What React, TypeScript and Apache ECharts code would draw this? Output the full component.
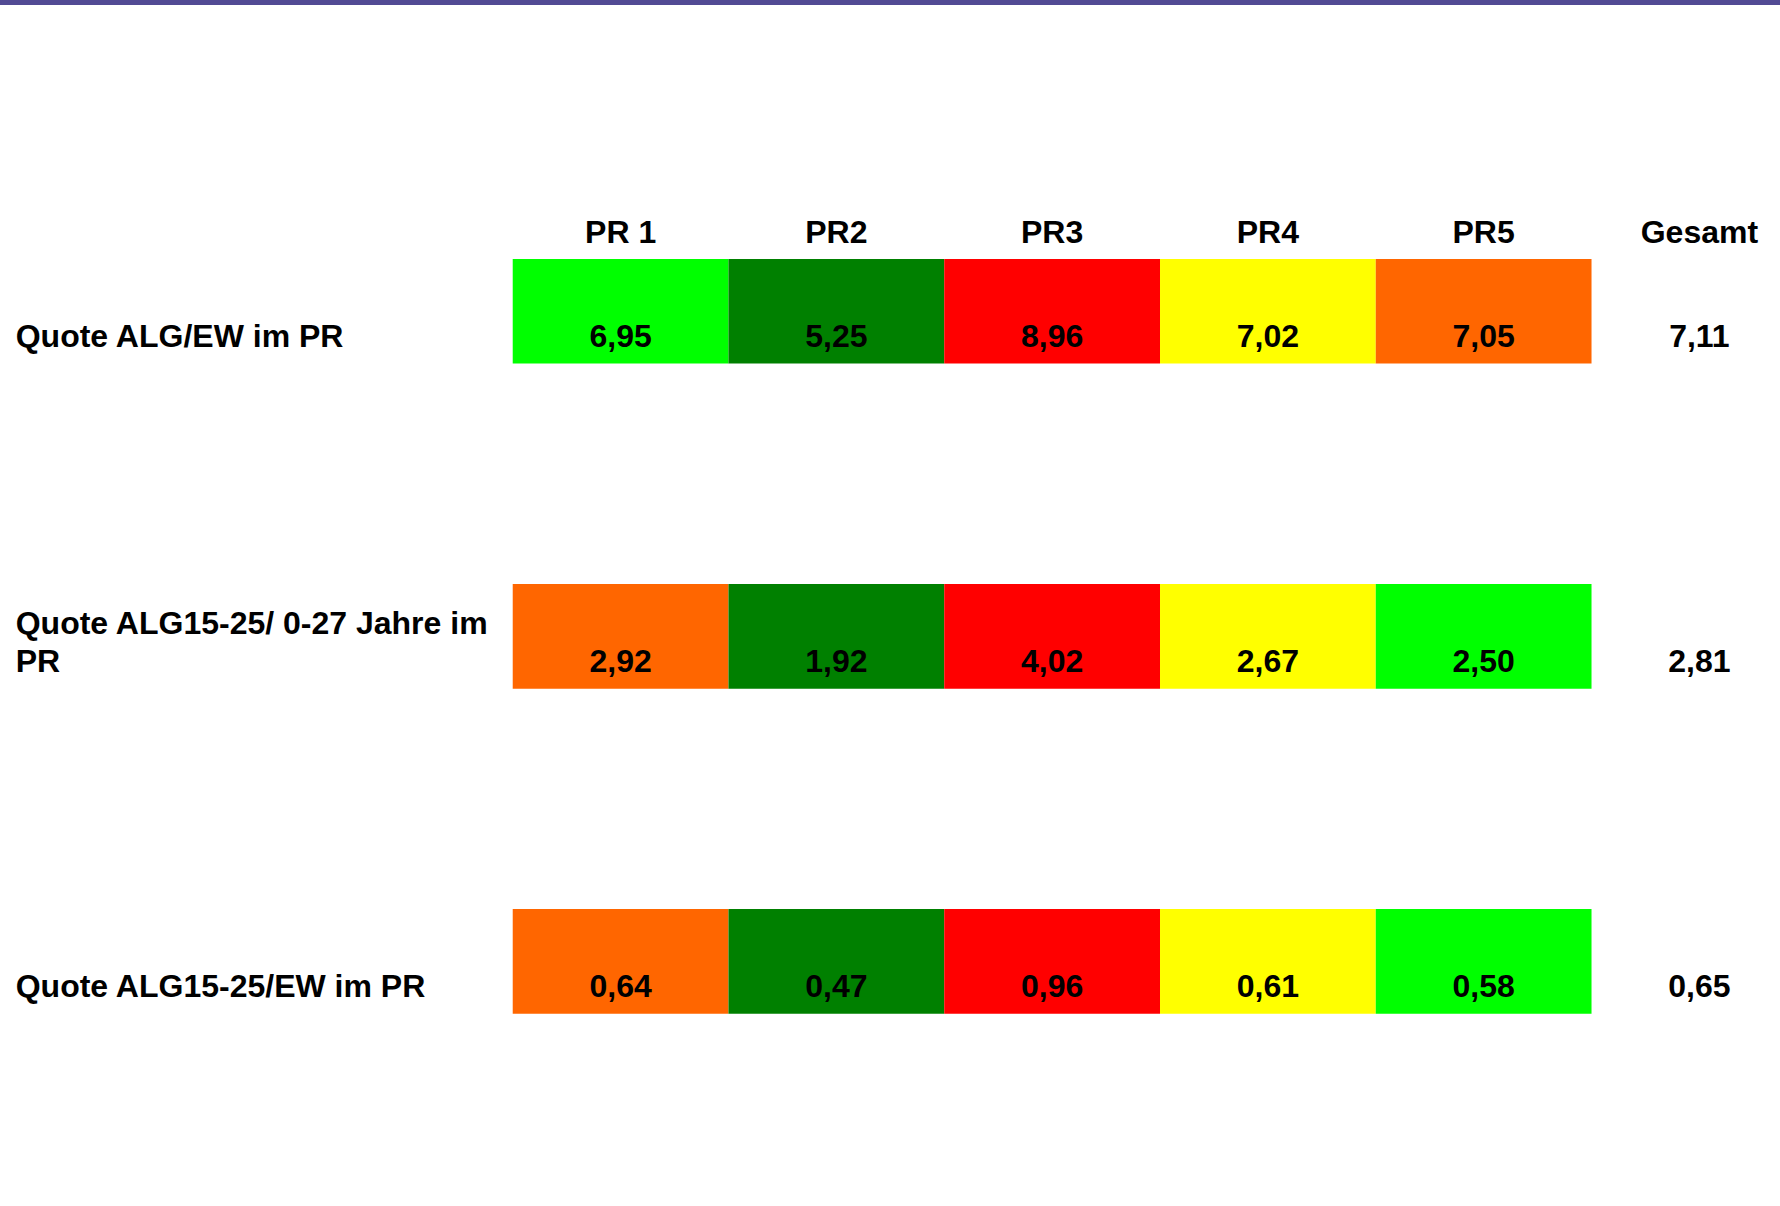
import React, { useEffect, useRef } from 'react';
import * as echarts from 'echarts';

const columns = ['PR 1', 'PR2', 'PR3', 'PR4', 'PR5', 'Gesamt'];
const rows = ['Quote ALG/EW im PR', 'Quote ALG15-25/ 0-27 Jahre im PR', 'Quote ALG15-25/EW im PR'];
const row1Values = [6.95, 5.25, 8.96, 7.02, 7.05];
const row2Values = [2.92, 1.92, 4.02, 2.67, 2.5];
const row3Values = [0.64, 0.47, 0.96, 0.61, 0.58];
const totals = [7.11, 2.81, 0.65];
const row1Colors = ['lime', 'green', 'red', 'yellow', 'orange'];
const row2Colors = ['orange', 'green', 'red', 'yellow', 'lime'];
const row3Colors = ['orange', 'green', 'red', 'yellow', 'lime'];

const palette: Record<string, string> = {
  lime: '#00ff00',
  green: '#008000',
  red: '#ff0000',
  yellow: '#ffff00',
  orange: '#ff6600',
};

const FONT = 'bold 32px "Liberation Sans", Arial, sans-serif';
const fmt = (v: number) => v.toFixed(2).replace('.', ',');

export default function App() {
  const ref = useRef<HTMLDivElement>(null);
  useEffect(() => {
    if (!ref.current) return;
    const chart = echarts.init(ref.current, undefined, { renderer: 'svg' });

    const allValues = [row1Values, row2Values, row3Values];
    const allColors = [row1Colors, row2Colors, row3Colors];
    const cellData: any[] = [];
    const cellColors: (string | null)[] = [];
    allValues.forEach((vals, r) => {
      vals.forEach((v, c) => {
        cellData.push([c, r, v]);
        cellColors.push(palette[allColors[r][c]]);
      });
      cellData.push([5, r, totals[r]]);
      cellColors.push(null);
    });

    chart.setOption({
      animation: false,
      backgroundColor: '#ffffff',
      graphic: [
        { type: 'rect', left: 0, top: 0, shape: { width: 1780, height: 5 }, style: { fill: '#524a94' } },
      ],
      grid: { left: 620.6, top: 148.7, width: 1078.8, height: 975.3 },
      xAxis: {
        type: 'category',
        data: columns,
        boundaryGap: false,
        position: 'top',
        offset: -83,
        axisLine: { show: false },
        axisTick: { show: false },
        splitLine: { show: false },
        axisLabel: {
          margin: 0,
          verticalAlign: 'middle',
          color: '#000',
          fontSize: 32,
          fontWeight: 'bold',
          fontFamily: '"Liberation Sans", Arial, sans-serif',
          interval: 0,
        },
      },
      yAxis: {
        type: 'category',
        data: rows,
        inverse: true,
        axisLine: { show: false },
        axisTick: { show: false },
        splitLine: { show: false },
        axisLabel: { show: false },
      },
      series: [
        {
          type: 'custom',
          clip: false,
          data: cellData,
          renderItem: (params: any, api: any) => {
            const c = api.value(0);
            const r = api.value(1);
            const v = api.value(2);
            const [cx, cy] = api.coord([c, r]);
            const [w, h] = api.size([1, 1]);
            const cellH = h * 0.322;
            const fill = cellColors[params.dataIndex];
            const children: any[] = [];
            if (fill) {
              children.push({
                type: 'rect',
                shape: { x: cx - w / 2, y: cy - cellH / 2, width: w, height: cellH },
                style: { fill },
              });
            }
            children.push({
              type: 'text',
              style: {
                text: fmt(v),
                x: cx,
                y: cy + 25,
                align: 'center',
                verticalAlign: 'middle',
                font: FONT,
                fill: '#000',
              },
            });
            return { type: 'group', children };
          },
        },
        {
          type: 'custom',
          clip: false,
          data: rows.map((_, r) => [0, r]),
          renderItem: (params: any, api: any) => {
            const r = api.value(1);
            const [cx, cy] = api.coord([0, r]);
            const [w] = api.size([1, 1]);
            return {
              type: 'text',
              style: {
                text: rows[params.dataIndex],
                x: cx - w / 2 - 497,
                y: cy + 44,
                align: 'left',
                verticalAlign: 'bottom',
                width: 490,
                overflow: 'break',
                lineHeight: 38,
                font: FONT,
                fill: '#000',
              },
            };
          },
        },
      ],
    });
    return () => chart.dispose();
  }, []);
  return (
    <div
      ref={ref}
      style={{ position: 'fixed', left: 0, top: 0, width: 1780, height: 1206, background: '#fff' }}
    />
  );
}
